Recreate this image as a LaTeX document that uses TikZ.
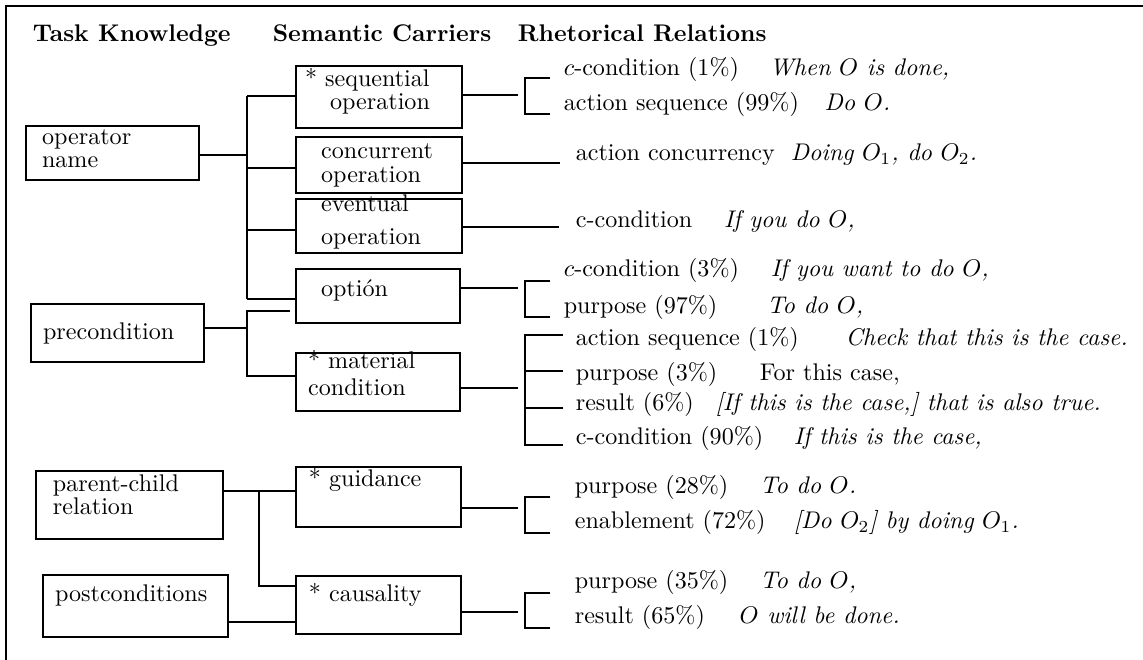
\documentclass[tikz,border=0pt]{standalone}
\usepackage{tikz}
\usetikzlibrary{positioning,calc}

\begin{document}
\begin{tikzpicture}[x=0.415pt,y=-0.415pt,line width=0.7pt,
    box/.style={draw, inner sep=0pt, align=left, font=\fontsize{10}{9.6}\selectfont},
    head/.style={anchor=base west, inner sep=0pt, font=\bfseries},
    rel/.style={anchor=base west, inner sep=0pt},
    ex/.style={inner sep=0pt, font=\itshape}]
\useasboundingbox (0,0) rectangle (1143,660);
% Frame
\draw (6,660) -- (6,6) -- (1143,6);
% Headings
\node[head] (tk) at (32,42) {Task Knowledge};
\node[head] (sc) at (272,42) {Semantic Carriers};
\node[head] (rr) at (517,42) {Rhetorical Relations};
% Task knowledge
\node[box, minimum width=71.8pt, text width=58.5pt, text height=7.5pt, text depth=14.9pt] (opname) at (112.5,153) {operator\\name};
\node[box, minimum width=71.8pt, text width=61.8pt, text height=14.5pt, text depth=9.5pt] (precond) at (117.5,333) {precondition};
\node[box, minimum width=77.6pt, text width=63.5pt, text height=8.3pt, text depth=19.9pt] (parent) at (129.5,505) {parent-child\\relation};
\node[box, minimum width=76.8pt, text width=66.8pt, text height=10.8pt, text depth=14.9pt] (postcond) at (135.5,606) {postconditions};
% Semantic carriers
\node[box, minimum width=68.9pt, text width=61.4pt, text height=8.3pt, text depth=17.4pt] (seqop) at (379,97) {* sequential\\\hspace*{10.4pt}operation};
\node[box, minimum width=68.9pt, text width=48pt, text height=9.1pt, text depth=14.1pt] (conop) at (379,165) {concurrent\\operation};
\node[box, minimum width=68.9pt, text width=48pt, text height=5pt, text depth=17.4pt] (evop) at (379,226) {eventual\\[4.1pt]operation};
\node[box, minimum width=68pt, text width=47.3pt, text height=11.6pt, text depth=10.8pt] (option) at (378,296) {optión};
\node[box, minimum width=68pt, text width=58pt, text height=6.6pt, text depth=17.4pt] (matcond) at (378,382) {* material\\[1.6pt]condition};
\node[box, minimum width=68.5pt, text width=57.7pt, text height=8.3pt, text depth=16.6pt] (guide) at (378.5,497) {* guidance};
\node[box, minimum width=68.5pt, text width=57.7pt, text height=10.4pt, text depth=13.7pt] (causal) at (378.5,605) {* causality};
% Rhetorical relations
\node[rel] (r1) at (563,76) {$c$-condition (1\%)};
\node[ex, base right=12pt of r1] (e1) {When $O$ is done,};
\node[rel] (r2) at (563,111) {action sequence (99\%)};
\node[ex, base right=10pt of r2] (e2) {Do $O$.};
\node[rel] (r3) at (575,161) {action concurrency};
\node[ex, base right=6pt of r3] (e3) {Doing $O_1$, do $O_2$.};
\node[rel] (r4) at (575,228) {c-condition};
\node[ex, base right=12.5pt of r4] (e4) {If you do $O$,};
\node[rel] (r5) at (563,277) {$c$-condition (3\%)};
\node[ex, base right=12.5pt of r5] (e5) {If you want to do $O$,};
\node[rel] (r6) at (563,314) {purpose (97\%)};
\node[ex, base right=20pt of r6] (e6) {To do $O$,};
\node[rel] (r7) at (575,346) {action sequence (1\%)};
\node[ex, base right=18.7pt of r7] (e7) {Check that this is the case.};
\node[rel] (r8) at (575,381) {purpose (3\%)};
\node[rel, base right=17pt of r8] (e8) {For this case,};
\node[rel] (r9) at (575,411) {result (6\%)};
\node[ex, base right=8.3pt of r9] (e9) {[If this is the case,] that is also true.};
\node[rel] (r10) at (575,445) {c-condition (90\%)};
\node[ex, base right=12pt of r10] (e10) {If this is the case,};
\node[rel] (r11) at (574,494) {purpose (28\%)};
\node[ex, base right=12.5pt of r11] (e11) {To do $O$.};
\node[rel] (r12) at (574,529) {enablement (72\%)};
\node[ex, base right=11pt of r12] (e12) {[Do $O_2$] by doing $O_1$.};
\node[rel] (r13) at (574,589) {purpose (35\%)};
\node[ex, base right=12.5pt of r13] (e13) {To do $O$,};
\node[rel] (r14) at (574,624) {result (65\%)};
\node[ex, base right=13.7pt of r14] (e14) {$O$ will be done.};
% Edges: operator name tree
\coordinate (ta) at (247,96);
\coordinate (tc) at (247,168);
\coordinate (td) at (247,230);
\coordinate (tb) at (247,299);
\coordinate (te) at (247,155);
\draw (ta) -- (tb);
\draw (ta) -- (seqop.west |- ta);
\draw (tc) -- (conop.west |- tc);
\draw (td) -- (evop.west |- td);
\draw (tb) -- (option.west |- tb);
\draw (opname.east |- te) -- (te);
% Edges: precondition tree
\coordinate (pa) at (247,311);
\coordinate (pb) at (290,311);
\coordinate (pc) at (247,376);
\coordinate (pd) at (247,328);
\draw (pb) -- (pa) -- (pc) -- (matcond.west |- pc);
\draw (precond.east |- pd) -- (pd);
% Edges: parent-child and postconditions
\coordinate (qa) at (259,491);
\coordinate (qb) at (259,586);
\coordinate (qc) at (260,622);
\draw (parent.east |- qa) -- (guide.west |- qa);
\draw (qa) -- (qb) -- (causal.west |- qb);
\draw (postcond.east |- qc) -- (causal.west |- qc);
% Edges: carriers to relations
\coordinate (hseq) at (518,95);
\coordinate (hcon) at (560,163);
\coordinate (hev) at (559,227);
\coordinate (hopt) at (518,288);
\coordinate (hmat) at (518,388);
\coordinate (hgui) at (518,508);
\coordinate (hcau) at (518,612);
\draw (seqop.east |- hseq) -- (hseq);
\draw (conop.east |- hcon) -- (hcon);
\draw (evop.east |- hev) -- (hev);
\draw (option.east |- hopt) -- (hopt);
\draw (matcond.east |- hmat) -- (hmat);
\draw (guide.east |- hgui) -- (hgui);
\draw (causal.east |- hcau) -- (hcau);
% Brackets
\draw ($(r1.base west)+(-13,2)$) -| ($(r2.base west)+(-38,3)$) -- ($(r2.base west)+(-13,3)$);
\draw ($(r5.base west)+(-13,4)$) -| ($(r6.base west)+(-38,3)$) -- ($(r6.base west)+(-13,3)$);
\draw ($(r7.base west)+(-12,-11)$) -| ($(r10.base west)+(-50,0)$) -- ($(r10.base west)+(-12,0)$);
\draw ($(r8.base west)+(-12,-10)$) -- ($(r8.base west)+(-50,-10)$);
\draw ($(r9.base west)+(-12,-3)$) -- ($(r9.base west)+(-50,-3)$);
\draw ($(r11.base west)+(-24,3)$) -| ($(r12.base west)+(-49,4)$) -- ($(r12.base west)+(-24,4)$);
\draw ($(r13.base west)+(-24,4)$) -| ($(r14.base west)+(-49,4)$) -- ($(r14.base west)+(-24,4)$);
\end{tikzpicture}
\end{document}
